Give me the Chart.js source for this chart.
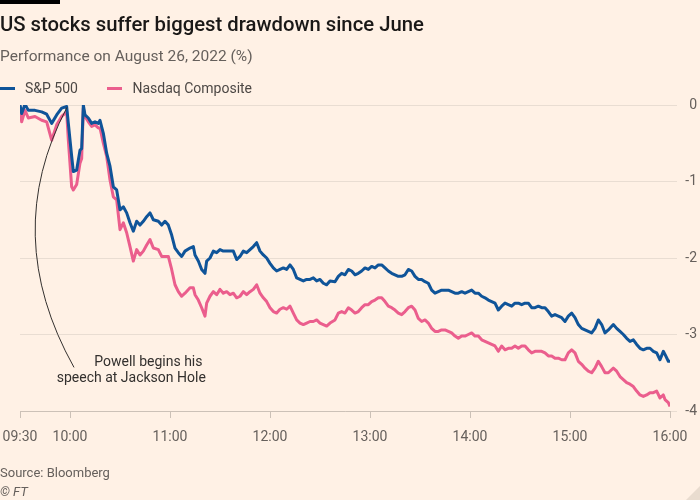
<!DOCTYPE html>
<html>
<head>
<meta charset="utf-8">
<script src="https://cdn.jsdelivr.net/npm/chart.js@4/dist/chart.umd.min.js"></script>
<style>
    html, body { margin: 0; padding: 0; }
    body {
        width: 700px; height: 500px; position: relative; overflow: hidden;
        background: #fff1e5; font-family: Roboto, "Noto Sans", sans-serif;
    }
    #chart { position: absolute; left: 0; top: 0; }
    .bar { position: absolute; left: 0; top: 0; width: 60px; height: 4px; background: #000; }
    .title { position: absolute; left: 0; top: 12px; font-size: 20.3px; font-weight: 500; color: #1a1817; white-space: nowrap; }
    .subtitle { position: absolute; left: 0; top: 47px; font-size: 15.5px; color: #66605c; white-space: nowrap; }
    .legend { position: absolute; left: 0; top: 79px; font-size: 14px; color: #4d4845; white-space: nowrap; }
    .legend span { display: inline-block; vertical-align: middle; }
    .swatch { width: 15px; height: 3px; margin-right: 10px; }
    .source { position: absolute; left: 0; top: 465px; font-size: 13px; color: #66605c; }
    .ft { position: absolute; left: 0; top: 484px; font-size: 13px; color: #66605c; font-style: italic; }
    .fold {
        position: absolute; right: 0; bottom: 0; width: 0; height: 0;
        border-left: 14px solid transparent; border-bottom: 14px solid #e9dccf;
    }
</style>
</head>
<body>
<canvas id="chart" width="700" height="500"></canvas>
<div class="bar"></div>
<div class="title">US stocks suffer biggest drawdown since June</div>
<div class="subtitle">Performance on August 26, 2022 (%)</div>
<div class="legend">
    <span class="swatch" style="background:#0f5499"></span><span style="margin-right:26px">S&amp;P 500</span>
    <span class="swatch" style="background:#eb5e8d"></span><span>Nasdaq Composite</span>
</div>
<div class="source">Source: Bloomberg</div>
<div class="ft">© FT</div>
<div class="fold"></div>

<script>
// minutes after 09:30
const minutes = [
    0, 1, 3, 5, 9, 13, 16, 19, 22, 25, 28, 29, 31, 32, 34, 36, 37, 38, 39, 41, 43, 45,
    47, 48, 50, 52, 54, 56, 58, 60, 62, 64, 66, 68, 70, 72, 74, 76, 78, 80, 83, 85, 87,
    89, 91, 93, 95, 97, 99, 102, 104, 105, 107, 109, 111, 112, 114, 116, 118, 120, 122, 124, 126,
    128, 130, 132, 134, 136, 138, 140, 142, 144, 146, 148, 150, 152, 154, 156, 158, 160, 162, 164, 166,
    168, 170, 172, 174, 176, 178, 180, 182, 184, 186,
    189, 191, 193, 195, 197, 199, 201, 203, 205, 207, 209, 211, 213, 215, 217, 219, 221, 223, 225, 227,
    229, 231, 233, 235, 237, 239, 241, 243, 245, 247, 249, 251, 253, 255, 257, 259, 261, 263, 265, 267,
    269, 271, 273, 275, 277, 279, 281, 283, 285, 287,
    289, 291, 293, 295, 297, 299, 301, 303, 305, 307, 309, 311, 313, 315, 317, 319, 321, 323, 325, 327,
    329, 331, 333, 335, 337, 339, 341, 343, 345, 347, 349, 351, 353, 356, 358, 360, 362, 364, 366, 368,
    370, 372, 374, 376, 378, 380, 382, 384, 386, 387, 389, 390
];

const sp500 = [
    0, -0.11, 0.01, -0.07, -0.07, -0.09, -0.12, -0.24, -0.13, -0.04, -0.02, -0.24, -0.67, -0.87, -0.85,
    -0.59, -0.57, 0, -0.13, -0.17, -0.24, -0.22, -0.24, -0.20, -0.37, -0.63, -0.80, -1.07, -1.11, -1.37,
    -1.33, -1.41, -1.54, -1.65, -1.52, -1.57, -1.52, -1.46, -1.41, -1.50, -1.52, -1.57, -1.52,
    -1.57, -1.70, -1.87, -1.93, -1.98, -1.91, -1.87, -1.85, -1.96, -2.04, -2.15, -2.20, -2.04, -2.00, -1.91,
    -1.93, -1.89, -1.91, -1.91, -1.91, -1.91, -2.02, -1.98, -1.91, -1.93, -1.89, -1.85, -1.80, -1.91, -1.96,
    -2.00, -2.07, -2.13, -2.17, -2.15, -2.13, -2.15, -2.09, -2.15, -2.26, -2.28, -2.30, -2.28, -2.28, -2.26,
    -2.30, -2.28, -2.33, -2.35, -2.30,
    -2.31, -2.24, -2.20, -2.22, -2.15, -2.17, -2.22, -2.20, -2.17, -2.13, -2.15, -2.11, -2.13, -2.09, -2.09,
    -2.13, -2.17, -2.20, -2.22, -2.24, -2.24, -2.22, -2.15, -2.17, -2.24, -2.28, -2.28, -2.31, -2.33, -2.42,
    -2.46, -2.44, -2.42, -2.42, -2.42, -2.44, -2.46, -2.46, -2.44, -2.46, -2.44, -2.42, -2.46, -2.46, -2.50,
    -2.52, -2.55, -2.57, -2.59, -2.68,
    -2.63, -2.59, -2.61, -2.63, -2.59, -2.59, -2.61, -2.59, -2.59, -2.65, -2.65, -2.63, -2.65, -2.65, -2.70,
    -2.76, -2.74, -2.76, -2.78, -2.83, -2.76, -2.72, -2.78, -2.87, -2.92, -2.94, -2.96, -2.98, -2.92, -2.81,
    -2.87, -2.98, -2.94, -2.87, -2.92, -2.96, -3.00, -3.05, -3.09, -3.07, -3.13, -3.18, -3.20, -3.18, -3.18,
    -3.22, -3.24, -3.33, -3.22, -3.26, -3.35, -3.35
];

const nasdaq = [
    -0.02, -0.22, -0.07, -0.17, -0.15, -0.20, -0.22, -0.46, -0.26, -0.15, -0.09, -0.46, -1.07, -1.11, -1.04,
    -0.76, -0.70, -0.04, -0.15, -0.22, -0.28, -0.26, -0.30, -0.30, -0.50, -0.67, -0.98, -1.20, -1.24, -1.63,
    -1.54, -1.67, -1.85, -2.04, -1.89, -1.96, -1.91, -1.83, -1.76, -1.87, -1.89, -1.98, -1.98,
    -1.98, -2.15, -2.35, -2.44, -2.50, -2.46, -2.39, -2.39, -2.48, -2.55, -2.65, -2.76, -2.59, -2.50, -2.44,
    -2.48, -2.41, -2.46, -2.44, -2.48, -2.46, -2.52, -2.50, -2.44, -2.48, -2.44, -2.41, -2.35, -2.46, -2.52,
    -2.57, -2.65, -2.70, -2.72, -2.67, -2.65, -2.67, -2.63, -2.72, -2.81, -2.85, -2.87, -2.85, -2.83, -2.83,
    -2.81, -2.85, -2.87, -2.89, -2.85,
    -2.81, -2.72, -2.70, -2.72, -2.65, -2.68, -2.72, -2.70, -2.65, -2.61, -2.61, -2.57, -2.55, -2.52, -2.52,
    -2.57, -2.63, -2.65, -2.68, -2.72, -2.74, -2.70, -2.65, -2.63, -2.68, -2.79, -2.83, -2.81, -2.85, -2.92,
    -2.96, -2.96, -2.94, -2.94, -2.96, -2.98, -3.02, -3.05, -3.02, -3.02, -3.00, -2.98, -3.02, -3.02, -3.07,
    -3.09, -3.11, -3.13, -3.15, -3.22,
    -3.15, -3.20, -3.18, -3.18, -3.15, -3.18, -3.15, -3.15, -3.20, -3.24, -3.22, -3.22, -3.22, -3.24, -3.28,
    -3.28, -3.31, -3.31, -3.33, -3.33, -3.24, -3.20, -3.24, -3.35, -3.39, -3.44, -3.48, -3.50, -3.44, -3.35,
    -3.42, -3.50, -3.50, -3.44, -3.48, -3.55, -3.59, -3.63, -3.65, -3.68, -3.74, -3.79, -3.81, -3.79, -3.76,
    -3.76, -3.74, -3.83, -3.79, -3.85, -3.89, -3.94
];

// x tick positions (minutes after 09:30) and y ticks
const xTicks = [0, 30, 90, 150, 210, 270, 330, 390];
const yTicks = [0, -1, -2, -3, -4];

const noteLines = ['Powell begins his', 'speech at Jackson Hole'];

function fmtTime(m) {
    const t = 9 * 60 + 30 + m;
    const h = Math.floor(t / 60), mm = t % 60;
    return String(h).padStart(2, '0') + ':' + String(mm).padStart(2, '0');
}

const toPoints = vals => minutes.map((m, i) => ({ x: m, y: vals[i] }));

// annotation: curved leader line from the pre-speech peak down to the note
const notePlugin = {
    id: 'note',
    afterDatasetsDraw(chart) {
        const { ctx, scales: { x, y } } = chart;
        ctx.save();
        ctx.strokeStyle = '#33302e';
        ctx.lineWidth = 1;
        ctx.beginPath();
        ctx.moveTo(x.getPixelForValue(28.2), y.getPixelForValue(-0.03));
        ctx.quadraticCurveTo(x.getPixelForValue(-12), y.getPixelForValue(-1.7),
                             x.getPixelForValue(32.4), y.getPixelForValue(-3.43));
        ctx.stroke();

        ctx.fillStyle = '#33302e';
        ctx.font = '14px Roboto, "Noto Sans", sans-serif';
        ctx.textAlign = 'right';
        ctx.textBaseline = 'middle';
        ctx.fillText(noteLines[0], x.getPixelForValue(109.5), y.getPixelForValue(-3.37));
        ctx.fillText(noteLines[1], x.getPixelForValue(111.5), y.getPixelForValue(-3.58));
        ctx.restore();
    }
};

new Chart(document.getElementById('chart'), {
    type: 'line',
    data: {
        datasets: [
            {
                label: 'S&P 500',
                data: toPoints(sp500),
                borderColor: '#0f5499',
                borderWidth: 3,
                pointRadius: 0,
                tension: 0,
                borderJoinStyle: 'round'
            },
            {
                label: 'Nasdaq Composite',
                data: toPoints(nasdaq),
                borderColor: '#eb5e8d',
                borderWidth: 3,
                pointRadius: 0,
                tension: 0,
                borderJoinStyle: 'round'
            }
        ]
    },
    options: {
        responsive: false,
        animation: false,
        layout: { padding: { top: 105, left: 20, right: 3, bottom: 49 } },
        plugins: { legend: { display: false }, tooltip: { enabled: false } },
        scales: {
            x: {
                type: 'linear',
                min: 0,
                max: 390,
                afterBuildTicks: s => { s.ticks = xTicks.map(v => ({ value: v })); },
                afterFit: s => { s.height = 40; s.paddingLeft = 0; s.paddingRight = 0; },
                ticks: {
                    callback: v => fmtTime(v),
                    color: '#66605c',
                    font: { size: 14, family: 'Roboto' },
                    padding: 11,
                    maxRotation: 0,
                    autoSkip: false
                },
                grid: { drawOnChartArea: false, drawTicks: true, tickLength: 7, color: '#ccc1b7' },
                border: { display: true, color: '#ccc1b7' }
            },
            y: {
                position: 'right',
                min: -4,
                max: 0,
                afterBuildTicks: s => { s.ticks = yTicks.map(v => ({ value: v })); },
                afterFit: s => { s.width = 27; },
                ticks: {
                    color: '#66605c',
                    font: { size: 14, family: 'Roboto' },
                    crossAlign: 'far',
                    padding: 0
                },
                grid: { color: '#e9ddd2', drawTicks: true, tickLength: 7 },
                border: { display: false }
            }
        }
    },
    plugins: [notePlugin]
});
</script>
</body>
</html>
